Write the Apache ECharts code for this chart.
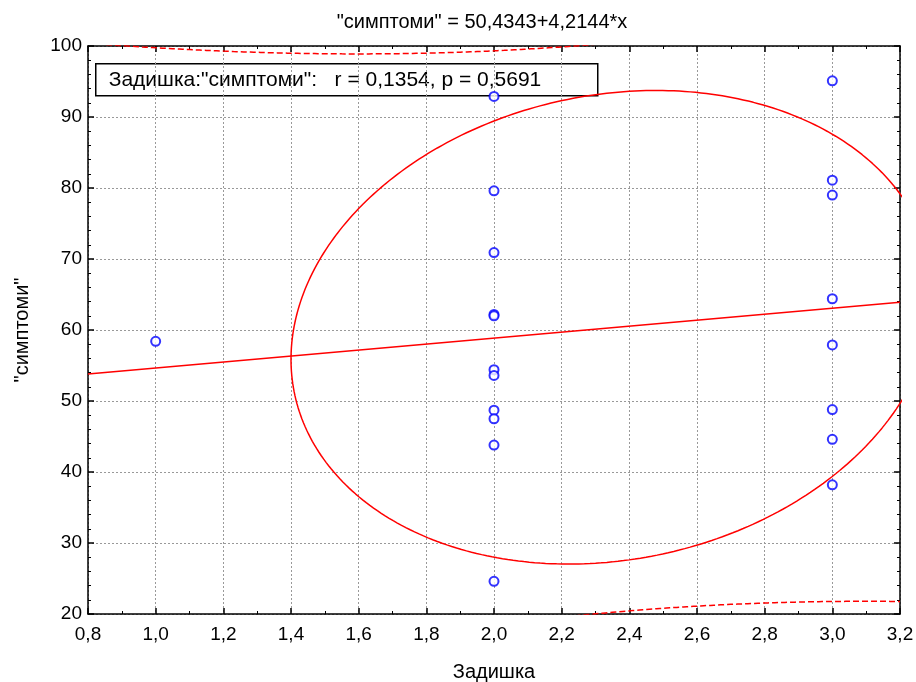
<!DOCTYPE html>
<html>
<head>
<meta charset="utf-8">
<script src="https://cdn.jsdelivr.net/npm/echarts@6/dist/echarts.min.js"></script>
<style>
  html, body { margin: 0; padding: 0; background: #fff; }
  #chart { width: 916px; height: 682px; }
</style>
</head>
<body>
<div id="chart"></div>
<script>
// ---- data ----
const xValues = [1,
  2, 2, 2, 2, 2, 2, 2, 2, 2, 2, 2,
  3, 3, 3, 3, 3, 3, 3, 3];
const yValues = [58.4,
  92.9, 79.6, 70.9, 62.2, 62.0, 54.4, 53.6, 48.7, 47.5, 43.8, 24.6,
  95.1, 81.1, 79.0, 64.4, 57.9, 48.8, 44.6, 38.2];
const xTicks = [0.8, 1.0, 1.2, 1.4, 1.6, 1.8, 2.0, 2.2, 2.4, 2.6, 2.8, 3.0, 3.2];
const yTicks = [20, 30, 40, 50, 60, 70, 80, 90, 100];
const intercept = 50.4343;
const slope = 4.2144;
const rCoef = 0.1354;
const pValue = 0.5691;
const tCrit = 2.1009;          // t(0.975, n-2 = 18)
const ellipseHalfX = 0.95;     // ellipse half extent in x
const ellipseHalfY = 33.35;    // ellipse half extent in y
const xName = 'Задишка';
const yName = '"симптоми"';

const fmt = (v, d) => v.toFixed(d).replace('.', ',');
const xMin = xTicks[0], xMax = xTicks[xTicks.length - 1];
const yMin = yTicks[0], yMax = yTicks[yTicks.length - 1];

// ---- statistics derived from the data ----
const n = xValues.length;
const mx = xValues.reduce((a, b) => a + b, 0) / n;
const my = yValues.reduce((a, b) => a + b, 0) / n;
const sxx = xValues.reduce((a, x) => a + (x - mx) * (x - mx), 0);
const sse = xValues.reduce((a, x, i) => {
  const e = yValues[i] - (intercept + slope * x);
  return a + e * e;
}, 0);
const sRes = Math.sqrt(sse / (n - 2));

const points = xValues.map((x, i) => [x, yValues[i]]);
const regLine = [[xMin, intercept + slope * xMin], [xMax, intercept + slope * xMax]];

const upper = [], lower = [];
const steps = 240;
for (let i = 0; i <= steps; i++) {
  const x = xMin + (xMax - xMin) * i / steps;
  const yh = intercept + slope * x;
  const w = tCrit * sRes * Math.sqrt(1 + 1 / n + (x - mx) * (x - mx) / sxx);
  upper.push([x, yh + w]);
  lower.push([x, yh - w]);
}

const ellipse = [];
const sr = Math.sqrt(1 - rCoef * rCoef);
for (let i = 0; i <= 360; i++) {
  const t = i / 360 * 2 * Math.PI;
  ellipse.push([mx + ellipseHalfX * Math.cos(t),
                my + ellipseHalfY * (rCoef * Math.cos(t) + sr * Math.sin(t))]);
}

const chart = echarts.init(document.getElementById('chart'), null, { renderer: 'canvas' });
const FONT = 'Liberation Sans, Arial, sans-serif';
const TICK_FS = 19;
const TEXT_FS = 21;
const axisCommon = {
  axisLine: { show: true, onZero: false, lineStyle: { color: '#000', width: 1.5 } },
  axisTick: { show: true, inside: true, length: 6, lineStyle: { color: '#000', width: 1.5 } },
  minorTick: { show: true, length: 3, lineStyle: { color: '#000', width: 1 } },
};

const option = {
  animation: false,
  backgroundColor: '#fff',
  grid: { left: 88, right: 16, top: 46, bottom: 68, containLabel: false, outerBoundsMode: 'none' },
  xAxis: [
    Object.assign({
      type: 'value', min: xMin, max: xMax, interval: 0.2, position: 'bottom',
      name: xName, nameLocation: 'middle', nameGap: 48, nameMoveOverlap: false,
      nameTextStyle: { fontFamily: FONT, fontSize: 20, color: '#000' },
      axisLabel: { fontFamily: FONT, fontSize: TICK_FS, color: '#000', margin: 11,
        formatter: v => fmt(v, 1) },
      splitLine: { show: true, lineStyle: { color: '#999', type: [2, 2], width: 1 } },
    }, axisCommon, { minorTick: Object.assign({}, axisCommon.minorTick, { splitNumber: 2 }) }),
    Object.assign({
      type: 'value', min: xMin, max: xMax, interval: 0.2, position: 'top',
      axisLabel: { show: false }, splitLine: { show: false },
    }, axisCommon, { minorTick: Object.assign({}, axisCommon.minorTick, { splitNumber: 2 }) }),
  ],
  yAxis: [
    Object.assign({
      type: 'value', min: yMin, max: yMax, interval: 10, position: 'left',
      name: yName, nameLocation: 'middle', nameGap: 56, nameRotate: 90, nameMoveOverlap: false,
      nameTextStyle: { fontFamily: FONT, fontSize: 20, color: '#000' },
      axisLabel: { fontFamily: FONT, fontSize: TICK_FS, color: '#000', margin: 6 },
      splitLine: { show: true, lineStyle: { color: '#999', type: [2, 2], width: 1 } },
    }, axisCommon, { minorTick: Object.assign({}, axisCommon.minorTick, { splitNumber: 5 }) }),
    Object.assign({
      type: 'value', min: yMin, max: yMax, interval: 10, position: 'right',
      axisLabel: { show: false }, splitLine: { show: false },
    }, axisCommon, { minorTick: Object.assign({}, axisCommon.minorTick, { splitNumber: 5 }) }),
  ],
  graphic: [
    {
      type: 'text', x: 482, y: 22, z: 100,
      style: { text: yName + ' = ' + fmt(intercept, 4) + '+' + fmt(slope, 4) + '*x',
        font: '20px ' + FONT, fill: '#000', align: 'center', verticalAlign: 'middle' }
    },
    {
      type: 'group', left: 95, top: 63, z: 100,
      children: [
        { type: 'rect', shape: { x: 0, y: 0, width: 502, height: 32 },
          style: { fill: '#fff', stroke: '#000', lineWidth: 1.5 } },
        { type: 'text', x: 13, y: 16,
          style: { text: xName + ':' + yName + ':   r = ' + fmt(rCoef, 4) + ', p = ' + fmt(pValue, 4),
            font: TEXT_FS + 'px ' + FONT, fill: '#000', verticalAlign: 'middle' } }
      ]
    }
  ],
  series: [
    { type: 'line', data: ellipse, showSymbol: false, clip: true, smooth: false,
      lineStyle: { color: '#ff0000', width: 1.5 }, z: 3 },
    { type: 'line', data: regLine, showSymbol: false, clip: true,
      lineStyle: { color: '#ff0000', width: 1.5 }, z: 3 },
    { type: 'line', data: upper, showSymbol: false, clip: true,
      lineStyle: { color: '#ff0000', width: 1.5, type: [6, 3] }, z: 3 },
    { type: 'line', data: lower, showSymbol: false, clip: true,
      lineStyle: { color: '#ff0000', width: 1.5, type: [6, 3] }, z: 3 },
    { type: 'scatter', data: points, symbol: 'emptyCircle', symbolSize: 9,
      itemStyle: { color: '#0000ff', borderColor: '#0000ff', borderWidth: 1.5 }, z: 5 }
  ]
};
chart.setOption(option);
</script>
</body>
</html>
